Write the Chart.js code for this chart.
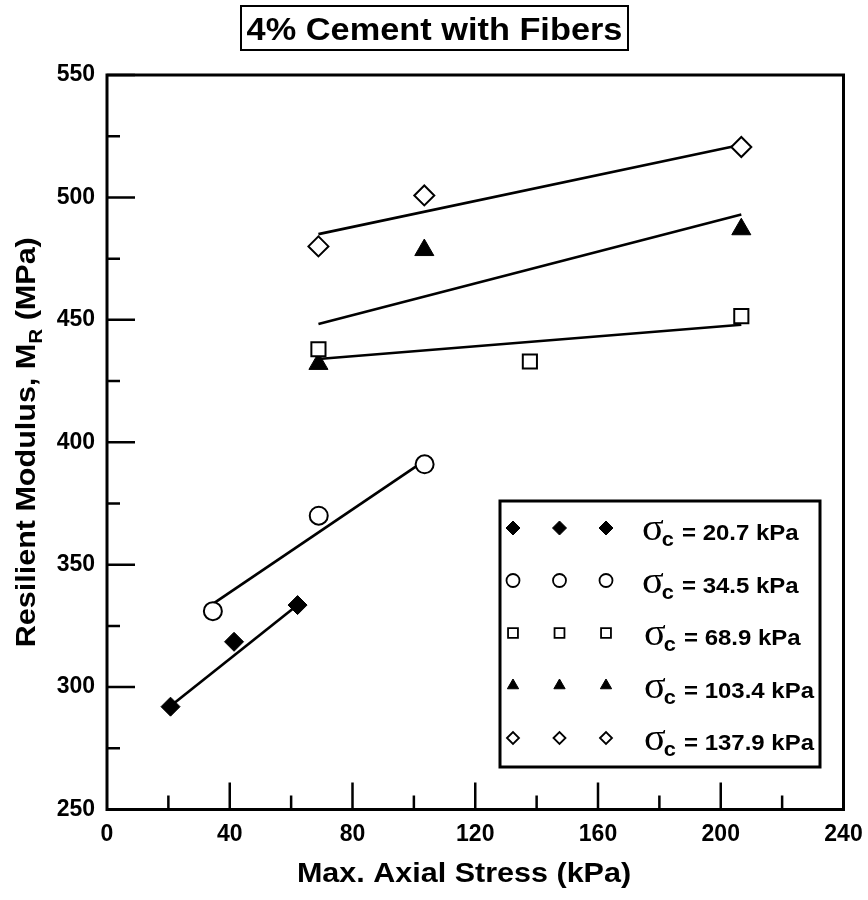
<!DOCTYPE html>
<html>
<head>
<meta charset="utf-8">
<title>4% Cement with Fibers</title>
<script src="https://cdn.jsdelivr.net/npm/chart.js"></script>
<style>
  html, body { margin: 0; padding: 0; background: #fff; }
</style>
</head>
<body>
<canvas id="myChart" width="868" height="900"></canvas>
<script>
// Valores (MR em MPa, tensão axial em kPa)
var confining = ['20.7', '34.5', '68.9', '103.4', '137.9'];

var stress207 = [20.7, 41.4, 62.1];
var mr207 = [292, 318.5, 333.5];
var stress345 = [34.5, 69, 103.5];
var mr345 = [331, 370, 391];
var stress689 = [68.9, 137.8, 206.7];
var mr689 = [438, 433, 451.5];
var stress1034 = [68.9, 103.4, 206.7];
var mr1034 = [432, 478.5, 487];
var stress1379 = [68.9, 103.4, 206.7];
var mr1379 = [480, 500.8, 520.6];

// retas de ajuste (extremos)
var fit207x = [20.7, 62.1];
var fit207y = [292.3, 333.5];
var fit345x = [34.5, 103.5];
var fit345y = [334, 392.5];
var fit689x = [68.9, 206.7];
var fit689y = [434, 448];
var fit1034x = [68.9, 206.7];
var fit1034y = [448.3, 493];
var fit1379x = [68.9, 206.7];
var fit1379y = [485, 521.5];

var xTicks = [0, 40, 80, 120, 160, 200, 240];
var yTicks = [250, 300, 350, 400, 450, 500, 550];

var FONT = '"Liberation Sans", Arial, Helvetica, sans-serif';
var SX = 1.09;

function pts(xs, ys) {
    return xs.map(function (x, i) { return { x: x, y: ys[i] }; });
}

// estilo de cada série
var series = [
    { x: stress207, y: mr207, style: 'rectRot', r: 9.5, filled: true, lr: 7 },
    { x: stress345, y: mr345, style: 'circle', r: 9, filled: false, lr: 6.5 },
    { x: stress689, y: mr689, style: 'rect', r: 10, filled: false, lr: 7 },
    { x: stress1034, y: mr1034, style: 'triangle', r: 11, filled: true, lr: 6.5 },
    { x: stress1379, y: mr1379, style: 'rectRot', r: 10, filled: false, lr: 6 }
];
var fits = [[fit207x, fit207y], [fit345x, fit345y], [fit689x, fit689y], [fit1034x, fit1034y], [fit1379x, fit1379y]];

var datasets = [];
series.forEach(function (s, i) {
    datasets.push({
        label: 'σc = ' + confining[i] + ' kPa',
        data: pts(s.x, s.y),
        pointStyle: s.style,
        pointRadius: s.r,
        pointHoverRadius: s.r,
        backgroundColor: s.filled ? '#000' : '#fff',
        borderColor: '#000',
        pointBorderWidth: s.filled ? 1 : 2,
        showLine: false,
        order: 0
    });
});
fits.forEach(function (f) {
    datasets.push({
        data: pts(f[0], f[1]),
        showLine: true,
        borderColor: '#000',
        borderWidth: 2.7,
        pointRadius: 0,
        fill: false,
        order: 1
    });
});

function marker(ctx, style, x, y, r, filled) {
    ctx.beginPath();
    if (style === 'circle') {
        ctx.arc(x, y, r, 0, Math.PI * 2);
    } else if (style === 'rect') {
        var s = r * Math.SQRT1_2;
        ctx.rect(x - s, y - s, 2 * s, 2 * s);
    } else if (style === 'rectRot') {
        ctx.moveTo(x - r, y); ctx.lineTo(x, y - r); ctx.lineTo(x + r, y); ctx.lineTo(x, y + r);
        ctx.closePath();
    } else if (style === 'triangle') {
        ctx.moveTo(x, y - r);
        ctx.lineTo(x + r * 0.866, y + r * 0.5);
        ctx.lineTo(x - r * 0.866, y + r * 0.5);
        ctx.closePath();
    }
    ctx.fillStyle = filled ? '#000' : '#fff';
    ctx.fill();
    ctx.lineWidth = filled ? 1 : 1.8;
    ctx.strokeStyle = '#000';
    ctx.stroke();
}

function stretchedText(ctx, txt, x, y, font, align) {
    ctx.save();
    ctx.font = font;
    var w = ctx.measureText(txt).width * SX;
    var x0 = align === 'center' ? x - w / 2 : x;
    ctx.translate(x0, y);
    ctx.scale(SX, 1);
    ctx.textAlign = 'left';
    ctx.fillText(txt, 0, 0);
    ctx.restore();
    return w;
}

var decor = {
    id: 'decor',
    beforeDraw: function (chart) {
        var ctx = chart.ctx;
        ctx.save();
        ctx.fillStyle = '#fff';
        ctx.fillRect(0, 0, chart.width, chart.height);
        ctx.restore();
    },
    afterDraw: function (chart) {
        var ctx = chart.ctx;
        var ca = chart.chartArea;
        var xs = chart.scales.x, ys = chart.scales.y;
        ctx.save();
        ctx.fillStyle = '#000';
        ctx.strokeStyle = '#000';
        ctx.textBaseline = 'alphabetic';

        // moldura
        ctx.lineWidth = 3;
        ctx.strokeRect(ca.left, ca.top, ca.right - ca.left, ca.bottom - ca.top);

        // marcas para dentro
        ctx.lineWidth = 2.5;
        ctx.beginPath();
        for (var v = xs.min + 20; v < xs.max; v += 20) {
            var px = xs.getPixelForValue(v);
            var len = (v % 40 === 0) ? 27 : 14;
            ctx.moveTo(px, ca.bottom);
            ctx.lineTo(px, ca.bottom - len);
        }
        for (var w = ys.min + 25; w <= ys.max; w += 25) {
            var py = ys.getPixelForValue(w);
            var l2 = (w % 50 === 0) ? 28 : 13;
            ctx.moveTo(ca.left, py);
            ctx.lineTo(ca.left + l2, py);
        }
        ctx.stroke();

        // título com caixa
        ctx.lineWidth = 2;
        ctx.strokeRect(241, 6, 387, 44);
        stretchedText(ctx, '4% Cement with Fibers', 434.5, 40, 'bold 31.5px ' + FONT, 'center');

        // título do eixo x
        stretchedText(ctx, 'Max. Axial Stress (kPa)', 464, 882, 'bold 28px ' + FONT, 'center');

        // título do eixo y (com subscrito)
        ctx.save();
        ctx.translate(35, (ca.top + ca.bottom) / 2);
        ctx.rotate(-Math.PI / 2);
        ctx.scale(SX, 1);
        var big = 'bold 28px ' + FONT, small = 'bold 19px ' + FONT;
        ctx.font = big;
        var a = 'Resilient Modulus, M', c = ' (MPa)';
        var wa = ctx.measureText(a).width, wc = ctx.measureText(c).width;
        ctx.font = small;
        var wb = ctx.measureText('R').width;
        var tot = wa + wb + wc;
        var x0 = -tot / 2;
        ctx.font = big; ctx.fillText(a, x0, 0);
        ctx.font = small; ctx.fillText('R', x0 + wa, 7);
        ctx.font = big; ctx.fillText(c, x0 + wa + wb, 0);
        ctx.restore();

        // legenda
        var lw = 320, lh = 266;
        var lx = ca.right - 23.5 - lw, ly = ca.bottom - 42.5 - lh;
        ctx.lineWidth = 3;
        ctx.strokeRect(lx, ly, lw, lh);
        series.forEach(function (s, i) {
            var ry = ly + 27 + i * 52.5;
            [13, 59.5, 106].forEach(function (dx) {
                marker(ctx, s.style, lx + dx, ry, s.lr, s.filled);
            });
            ctx.fillStyle = '#000';
            var tx = lx + 142 + (i >= 2 ? 2 : 0);
            var base = ry + 12;
            var ws = stretchedText(ctx, 'σ', tx, base, '37px "Liberation Serif", "Times New Roman", serif', 'left');
            stretchedText(ctx, 'c', tx + ws - 2, base + 6, 'bold 20px ' + FONT, 'left');
            stretchedText(ctx, '= ' + confining[i] + ' kPa', tx + 40, base, 'bold 22px ' + FONT, 'left');
        });
        ctx.restore();
    }
};

var config = {
    type: 'scatter',
    data: { datasets: datasets },
    options: {
        responsive: false,
        animation: false,
        layout: { padding: { left: 47, right: 24.5, top: 75, bottom: 0 } },
        plugins: {
            legend: { display: false },
            tooltip: { enabled: false },
            title: { display: false }
        },
        scales: {
            x: {
                type: 'linear',
                min: xTicks[0],
                max: xTicks[xTicks.length - 1],
                afterBuildTicks: function (s) { s.ticks = xTicks.map(function (v) { return { value: v }; }); },
                afterFit: function (s) { s.height = 90.5; s.paddingLeft = 0; s.paddingRight = 0; },
                grid: { display: false, drawTicks: false },
                border: { display: false },
                ticks: { color: '#000', padding: 11, maxRotation: 0, font: { family: FONT, size: 23, weight: 'bold' } }
            },
            y: {
                type: 'linear',
                min: yTicks[0],
                max: yTicks[yTicks.length - 1],
                afterBuildTicks: function (s) { s.ticks = yTicks.map(function (v) { return { value: v }; }); },
                afterFit: function (s) { s.width = 60; s.paddingTop = 0; s.paddingBottom = 0; },
                grid: { display: false, drawTicks: false },
                border: { display: false },
                ticks: { color: '#000', padding: 12, font: { family: FONT, size: 23, weight: 'bold' } }
            }
        }
    },
    plugins: [decor]
};

var ctx = document.getElementById('myChart').getContext('2d');
new Chart(ctx, config);
</script>
</body>
</html>
